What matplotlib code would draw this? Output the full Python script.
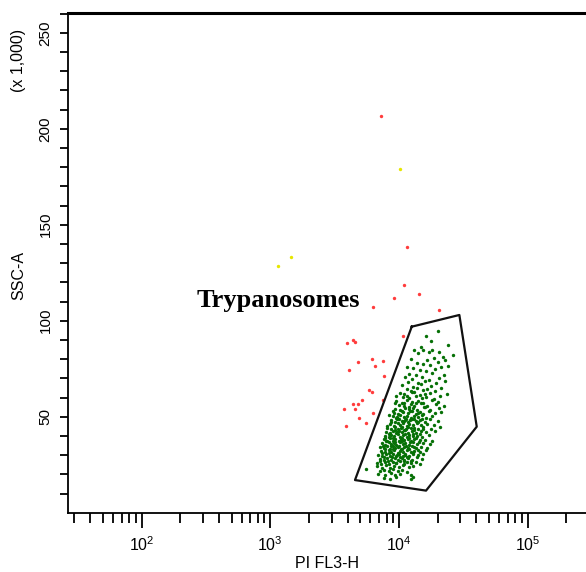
import matplotlib
matplotlib.use('Agg')
import matplotlib.pyplot as plt
from matplotlib.ticker import LogLocator, FixedLocator, NullFormatter
import numpy as np

plt.rcParams['font.family'] = ['Liberation Sans', 'DejaVu Sans']
plt.rcParams['mathtext.fontset'] = 'custom'
plt.rcParams['mathtext.rm'] = 'Liberation Sans'
plt.rcParams['mathtext.it'] = 'Liberation Sans'

# ---------------- data (log10 PI FL3-H, SSC-A x1000) ----------------
gate_log_fl3 = [4.099, 4.469, 4.604, 4.210, 3.658]
gate_ssc = [96.9, 103.0, 44.8, 11.5, 17.0]

green_pts = [
(4.30,94.5),(4.21,92.0),
(4.25,89.6),
(4.38,87.2),(4.17,86.4),
(4.12,84.8),(4.15,83.1),(4.19,84.6),(4.23,83.5),(4.26,85.0),(4.31,83.8),
(4.42,82.0),(4.34,81.2),
(4.09,80.3),(4.22,79.4),(4.27,80.8),(4.36,79.6),
(4.14,78.2),(4.19,77.4),(4.30,78.6),
(4.06,76.0),(4.11,75.3),(4.24,76.7),(4.33,75.8),(4.38,76.4),
(4.16,74.4),(4.21,73.6),(4.28,74.9),
(4.08,72.3),(4.13,71.6),(4.26,72.8),(4.35,71.9),
(4.05,70.5),(4.10,69.7),(4.18,70.9),(4.23,69.3),(4.31,70.2),
(4.07,68.1),(4.15,67.4),(4.20,68.6),(4.29,67.8),(4.36,68.4),
(4.02,66.3),(4.11,65.5),(4.17,66.8),(4.25,65.9),
(4.06,64.2),(4.09,63.5),(4.14,64.7),(4.19,63.9),(4.22,64.5),(4.28,63.3),(4.33,64.9),
(4.01,62.4),(4.04,61.6),(4.12,62.8),(4.16,61.3),(4.24,62.1),(4.37,61.8),
(4.03,60.2),(4.08,59.5),(4.13,60.7),(4.18,59.8),(4.21,60.4),(4.27,59.3),(4.32,60.6),
(3.98,58.1),(4.02,57.4),(4.06,58.6),(4.10,57.8),(4.15,58.4),(4.19,57.2),(4.26,58.8),(4.30,57.6),
(4.00,56.3),(4.04,55.6),(4.09,56.7),(4.12,55.4),(4.17,56.9),(4.22,55.8),(4.29,56.4),(4.35,55.5),
(3.97,54.2),(4.01,53.5),(4.05,54.7),(4.08,53.8),(4.11,54.5),(4.14,53.3),(4.20,54.9),(4.24,53.6),(4.31,54.3),
(3.96,52.1),(3.99,51.4),(4.03,52.6),(4.07,51.7),(4.10,52.9),(4.13,51.2),(4.16,52.4),(4.19,51.6),(4.23,52.8),(4.28,51.9),(4.33,52.3),
(3.95,50.3),(3.98,49.5),(4.01,50.8),(4.04,49.8),(4.06,50.6),(4.09,49.3),(4.12,50.4),(4.15,49.7),(4.18,50.9),(4.21,49.4),(4.26,50.5),
(3.94,48.2),(3.97,47.4),(4.00,48.7),(4.02,47.6),(4.05,48.4),(4.07,47.2),(4.10,48.8),(4.13,47.8),(4.16,48.3),(4.20,47.5),(4.24,48.6),(4.30,47.9),
(3.93,46.1),(3.96,45.4),(3.99,46.6),(4.01,45.7),(4.03,46.9),(4.06,45.3),(4.08,46.4),(4.11,45.6),(4.14,46.8),(4.17,45.9),(4.22,46.3),(4.27,45.5),
(3.91,44.3),(3.94,43.5),(3.97,44.8),(3.99,43.7),(4.02,44.5),(4.04,43.2),(4.07,44.6),(4.09,43.9),(4.12,44.2),(4.15,43.4),(4.19,44.9),(4.25,43.8),(4.32,44.4),
(3.90,42.2),(3.93,41.5),(3.95,42.7),(3.98,41.3),(4.00,42.5),(4.02,41.8),(4.05,42.9),(4.07,41.6),(4.10,42.3),(4.13,41.4),(4.17,42.6),(4.21,41.9),(4.28,42.4),
(3.89,40.1),(3.92,39.4),(3.94,40.6),(3.96,39.7),(3.99,40.8),(4.01,39.3),(4.03,40.4),(4.06,39.6),(4.08,40.7),(4.11,39.8),(4.14,40.2),(4.18,39.5),(4.23,40.5),
(3.88,38.2),(3.90,37.4),(3.93,38.7),(3.95,37.6),(3.97,38.4),(4.00,37.3),(4.02,38.8),(4.04,37.7),(4.07,38.3),(4.09,37.5),(4.12,38.6),(4.16,37.8),(4.20,38.1),(4.26,37.4),
(3.87,36.3),(3.89,35.5),(3.92,36.7),(3.94,35.8),(3.96,36.5),(3.98,35.3),(4.01,36.8),(4.03,35.6),(4.05,36.2),(4.08,35.4),(4.11,36.6),(4.14,35.9),(4.19,36.4),(4.24,35.7),
(3.85,34.2),(3.88,33.6),(3.91,34.7),(3.93,33.4),(3.95,34.5),(3.97,33.8),(4.00,34.9),(4.02,33.3),(4.04,34.4),(4.07,33.7),(4.10,34.6),(4.13,33.5),(4.17,34.3),(4.22,33.9),
(3.86,32.1),(3.89,31.4),(3.92,32.6),(3.94,31.7),(3.96,32.8),(3.99,31.3),(4.01,32.4),(4.03,31.6),(4.06,32.7),(4.09,31.5),(4.12,32.2),(4.16,31.8),(4.21,32.5),
(3.84,30.3),(3.87,29.5),(3.90,30.7),(3.93,29.6),(3.95,30.4),(3.98,29.3),(4.00,30.8),(4.03,29.7),(4.05,30.2),(4.08,29.4),(4.11,30.6),(4.15,29.8),(4.19,30.5),
(3.85,28.2),(3.88,27.4),(3.91,28.6),(3.94,27.6),(3.97,28.4),(3.99,27.3),(4.02,28.7),(4.04,27.7),(4.07,28.3),(4.10,27.5),(4.14,28.8),(4.18,27.9),
(3.83,26.1),(3.86,25.5),(3.89,26.6),(3.92,25.3),(3.95,26.4),(3.98,25.7),(4.01,26.8),(4.04,25.4),(4.06,26.3),(4.09,25.8),(4.13,26.5),(4.16,25.2),
(3.83,24.2),(3.87,23.5),(3.90,24.6),(3.93,23.4),(3.96,24.4),(4.00,23.7),(4.03,24.8),(4.08,23.6),(4.11,24.3),
(3.74,22.6),(3.85,21.8),(3.88,22.4),(3.92,21.5),(3.95,22.7),(3.99,21.6),(4.02,22.2),(4.06,21.4),
(3.84,20.3),(3.89,19.6),(3.94,20.5),(3.97,19.4),(4.01,20.1),(4.09,19.8),
(3.88,18.2),(3.93,17.6),(3.98,18.4),(4.09,17.8),(4.11,18.6),
]

green_core_pts = [
(3.905,45.0),(3.935,47.3),(3.965,43.2),(3.985,48.9),(4.015,44.1),(4.035,47.9),(4.055,43.7),(4.085,48.1),(4.115,43.0),(4.145,47.0),(4.185,43.6),
(3.895,39.0),(3.925,41.0),(3.955,38.9),(3.985,42.0),(4.015,38.3),(4.045,41.2),(4.075,39.0),(4.105,41.0),(4.135,38.9),(4.165,40.9),
(3.875,35.0),(3.905,37.1),(3.935,34.9),(3.965,37.0),(3.995,34.1),(4.025,37.2),(4.055,34.8),(4.085,37.0),(4.115,34.0),(4.155,36.9),
(3.865,31.0),(3.895,33.0),(3.925,30.9),(3.955,33.1),(3.985,30.1),(4.015,33.1),(4.045,30.8),(4.075,33.0),(4.105,30.9),(4.145,32.9),
(3.855,27.1),(3.885,29.1),(3.915,26.9),(3.945,29.0),(3.975,26.1),(4.005,29.1),(4.035,26.9),(4.065,29.0),(4.095,26.9),
(3.925,51.1),(3.955,53.0),(3.985,50.0),(4.025,53.1),(4.055,49.0),(4.085,53.0),(4.115,48.9),(4.145,52.0),(4.175,48.9),
(3.970,56.9),(4.035,57.0),(4.075,55.0),(4.135,57.1),(4.195,55.0),
(3.980,61.0),(4.060,61.0),(4.100,63.0),(4.200,62.0),
]

red_log_fl3 = [3.860, 4.064, 4.037, 4.153, 3.961, 3.800, 4.311, 4.033, 3.598, 3.640,
               3.656, 3.684, 3.788, 3.873, 3.614, 3.814, 3.886, 3.769, 3.793, 3.715,
               3.873, 3.645, 3.684, 3.573, 3.658, 3.800, 3.689, 3.744, 3.586]
red_ssc = [206.6, 138.2, 118.8, 113.9, 111.8, 107.4, 105.8, 92.0, 88.2, 89.8,
           88.9, 78.3, 80.1, 79.2, 74.3, 76.4, 71.4, 63.9, 62.9, 58.7,
           58.7, 56.8, 56.6, 54.0, 53.9, 51.8, 49.2, 46.6, 45.2]

yellow_log_fl3 = [4.005, 3.161, 3.060]
yellow_ssc = [179.2, 133.3, 128.5]

y_major = [50, 100, 150, 200, 250]
y_minor = [10, 20, 30, 40, 60, 70, 80, 90, 110, 120, 130, 140, 160, 170, 180, 190,
           210, 220, 230, 240, 260]

# ---------------- figure ----------------
W, H = 586, 572
fig = plt.figure(figsize=(W/100, H/100), dpi=100)
ax = fig.add_axes([68/W, (H-512.7)/H, 1-68/W, (512.7-13)/H])
ax.set_xscale('log')
ax.set_xlim(10**1.428, 10**5.453)
ax.set_ylim(0, 260.3)

g = np.array(green_pts + green_core_pts)
ax.scatter(10**g[:, 0], g[:, 1], s=6, c='#067006', marker='o', linewidths=0, zorder=3)
ax.scatter(10**np.array(red_log_fl3), red_ssc, s=6, c='#ff3c3c', marker='o', linewidths=0, zorder=3)
ax.scatter(10**np.array(yellow_log_fl3), yellow_ssc, s=6, c='#e6e600', marker='o', linewidths=0, zorder=3)

gx = 10**np.array(gate_log_fl3 + gate_log_fl3[:1])
gy = gate_ssc + gate_ssc[:1]
ax.plot(gx, gy, color='#111111', lw=1.6, zorder=4)

ax.text(10**2.428, 107.3, 'Trypanosomes', family=['Liberation Serif'], fontweight='bold',
        fontsize=19, ha='left', va='baseline')

# axes styling
ax.spines['right'].set_visible(False)
ax.spines['top'].set_linewidth(2.2)
ax.spines['left'].set_linewidth(1.3)
ax.spines['bottom'].set_linewidth(1.3)

ax.xaxis.set_major_locator(LogLocator(base=10, numticks=12))
ax.xaxis.set_minor_locator(LogLocator(base=10, subs=np.arange(2, 10), numticks=12))
ax.xaxis.set_minor_formatter(NullFormatter())
ax.yaxis.set_major_locator(FixedLocator(y_major))
ax.yaxis.set_minor_locator(FixedLocator(y_minor))

ax.tick_params(axis='x', which='major', direction='out', length=11, width=1.3, labelsize=11.5, pad=5)
ax.tick_params(axis='x', which='minor', direction='out', length=7, width=1.3)
ax.tick_params(axis='y', which='major', direction='out', length=6, width=1.3, labelsize=11, pad=5,
               labelrotation=90)
ax.tick_params(axis='y', which='minor', direction='out', length=6, width=1.3)
for lbl in ax.get_yticklabels():
    lbl.set_va('center')

fig.text(327/W, 1-571/H, 'PI FL3-H', fontsize=11.5, ha='center', va='bottom')
fig.text(19/W, 1-275/H, 'SSC-A', fontsize=11.5, ha='center', va='center', rotation=90)
fig.text(19/W, 1-60/H, '(x 1,000)', fontsize=11.5, ha='center', va='center', rotation=90)

fig.savefig('out.png', dpi=100)
